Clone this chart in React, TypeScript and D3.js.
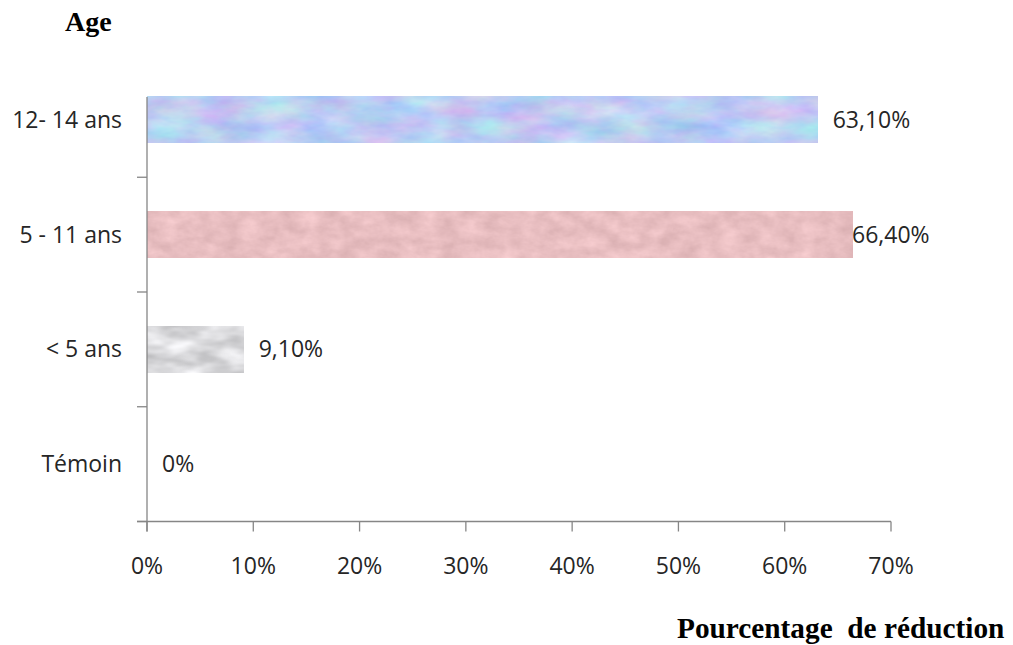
import { scaleBand, scaleLinear } from "d3";

const categories = ["12- 14 ans", "5 - 11 ans", "< 5 ans", "Témoin"];
const reduction = [0.631, 0.664, 0.091, 0];
const valueLabels = ["63,10%", "66,40%", "9,10%", "0%"];
const xTicks = [0, 0.1, 0.2, 0.3, 0.4, 0.5, 0.6, 0.7];
const textures = ["tex-blue", "tex-pink", "tex-grey", "tex-grey"];

function formatTick(v: number) {
  return `${Math.round(v * 100)}%`;
}

export default function App() {
  const width = 1013;
  const height = 645;
  const plot = { left: 147, right: 891, top: 62.5, bottom: 521.5 };

  const xScale = scaleLinear().domain([0, 0.7]).range([plot.left, plot.right]);
  const yScale = scaleBand<string>()
    .domain(categories)
    .range([plot.top, plot.bottom])
    .paddingInner(0.6)
    .paddingOuter(0.3);
  const step = yScale.step();
  const barH = yScale.bandwidth();
  const axisTop = yScale(categories[0]) ?? plot.top;
  const labelFont = "'Open Sans', 'DejaVu Sans', sans-serif";
  const ink = "#262626";
  const axisColor = "#868686";
  const fontSize = 23;

  return (
    <div style={{ position: "absolute", left: 0, top: 0, background: "#fff" }}>
      <svg width={width} height={height} viewBox={`0 0 ${width} ${height}`}>
        <defs>
          {/* marble-like fills, noise mapped around a base colour */}
          <filter id="tex-blue" x="0" y="0" width="1" height="1" colorInterpolationFilters="sRGB">
            <feTurbulence type="fractalNoise" baseFrequency="0.02 0.05" numOctaves="4" seed="7" />
            <feColorMatrix
              type="matrix"
              values="0.35 0 0 0 0.56  0 0.3 0 0 0.65  0 0 0.1 0 0.9  0 0 0 0 1"
            />
          </filter>
          <filter id="tex-pink" x="0" y="0" width="1" height="1" colorInterpolationFilters="sRGB">
            <feTurbulence type="fractalNoise" baseFrequency="0.05 0.08" numOctaves="4" seed="3" />
            <feColorMatrix
              type="matrix"
              values="0.15 0 0 0 0.835  0.15 0 0 0 0.67  0.15 0 0 0 0.68  0 0 0 0 1"
            />
          </filter>
          <filter id="tex-grey" x="0" y="0" width="1" height="1" colorInterpolationFilters="sRGB">
            <feTurbulence type="fractalNoise" baseFrequency="0.025 0.06" numOctaves="3" seed="11" />
            <feColorMatrix
              type="matrix"
              values="0.4 0 0 0 0.66  0.4 0 0 0 0.66  0.4 0 0 0 0.67  0 0 0 0 1"
            />
          </filter>
        </defs>

        {/* bars */}
        {categories.map((cat, i) => {
          const y = yScale(cat) ?? 0;
          const w = xScale(reduction[i]) - xScale(0);
          return w > 0 ? (
            <rect
              key={cat}
              x={xScale(0)}
              y={y}
              width={w}
              height={barH}
              fill="#ccc"
              filter={`url(#${textures[i]})`}
            />
          ) : null;
        })}

        {/* y axis */}
        <line x1={plot.left} x2={plot.left} y1={axisTop} y2={plot.bottom + 10} stroke={axisColor} strokeWidth={1.3} />
        {categories.map((cat, i) => {
          const yb = (yScale(cat) ?? 0) - (step * 0.6) / 2 + step;
          return (
            <line key={`yt-${i}`} x1={plot.left - 10} x2={plot.left} y1={yb} y2={yb} stroke={axisColor} strokeWidth={1.3} />
          );
        })}

        {/* x axis */}
        <line x1={plot.left - 10} x2={plot.right} y1={plot.bottom} y2={plot.bottom} stroke={axisColor} strokeWidth={1.3} />
        {xTicks.map((t) => (
          <g key={t}>
            <line x1={xScale(t)} x2={xScale(t)} y1={plot.bottom} y2={plot.bottom + 10} stroke={axisColor} strokeWidth={1.3} />
            <text
              x={xScale(t)}
              y={plot.bottom + 52}
              textAnchor="middle"
              fontFamily={labelFont}
              fontSize={fontSize}
              fill={ink}
            >
              {formatTick(t)}
            </text>
          </g>
        ))}

        {/* category labels */}
        {categories.map((cat) => (
          <text
            key={cat}
            x={plot.left - 25}
            y={(yScale(cat) ?? 0) + barH / 2 + 8}
            textAnchor="end"
            fontFamily={labelFont}
            fontSize={fontSize}
            fill={ink}
          >
            {cat}
          </text>
        ))}

        {/* value labels */}
        {categories.map((cat, i) => (
          <text
            key={`v-${cat}`}
            x={Math.min(xScale(reduction[i]) + 15, 852)}
            y={(yScale(cat) ?? 0) + barH / 2 + 8}
            fontFamily={labelFont}
            fontSize={fontSize}
            fill={ink}
          >
            {valueLabels[i]}
          </text>
        ))}

        {/* titles */}
        <text x={65} y={31} fontFamily="'Liberation Serif', 'Times New Roman', serif" fontWeight="bold" fontSize={28} fill="#000">
          Age
        </text>
        <text
          x={677}
          y={638}
          fontFamily="'Liberation Serif', 'Times New Roman', serif"
          fontWeight="bold"
          fontSize={29.3}
          fill="#000"
          style={{ whiteSpace: "pre" }}
        >
          Pourcentage  de réduction
        </text>
      </svg>
    </div>
  );
}
